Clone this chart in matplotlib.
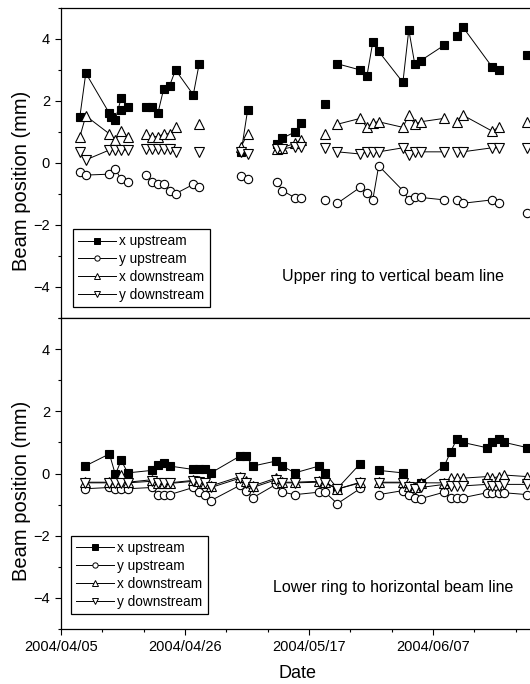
import numpy as np
import matplotlib
matplotlib.use('Agg')
import matplotlib.pyplot as plt
import matplotlib.dates as mdates
from matplotlib.lines import Line2D
from datetime import datetime

plt.rcParams['font.family'] = ['Liberation Sans', 'DejaVu Sans']

# Data (days after 2004/04/05)
base = mdates.date2num(datetime(2004, 4, 5))
tick_labels = ['2004/04/05', '2004/04/26', '2004/05/17', '2004/06/07']
tick_days = [0, 21, 42, 63]

# Upper ring to vertical beam line
days_up = [3.2, 4.2, 8.2, 9.2, 10.2, 11.3, 14.4, 15.4, 16.4, 17.4, 18.4, 19.4,
           22.4, 23.4, 30.5, 31.6, 36.5, 37.5, 39.6, 40.6, 44.7, 46.8, 50.7,
           51.8, 52.8, 53.8, 57.9, 58.9, 59.9, 60.9, 64.9, 67.0, 68.0, 73.0,
           74.1, 79.0]
starts_up = [6, 14, 16, 20, 21, 31, 35]
xu_up = [1.5, 2.9, 1.6, 1.4, 2.1, 1.8, 1.8, 1.8, 1.6, 2.4, 2.5, 3.0,
         2.2, 3.2, 0.35, 1.7, 0.6, 0.8, 1.0, 1.3, 1.9, 3.2, 3.0,
         2.8, 3.9, 3.6, 2.6, 4.3, 3.2, 3.3, 3.8, 4.1, 4.4, 3.1,
         3.0, 3.5]
xu_up_extra_days = [8.4, 10.2]
xu_up_extra = [1.5, 1.7]
yu_up = [-0.3, -0.39, -0.36, -0.2, -0.53, -0.6, -0.39, -0.6, -0.69, -0.69, -0.89, -0.99,
         -0.69, -0.78, -0.41, -0.52, -0.6, -0.89, -1.12, -1.12, -1.19, -1.3, -0.78,
         -0.98, -1.19, -0.09, -0.89, -1.19, -1.11, -1.11, -1.19, -1.19, -1.3, -1.19,
         -1.3, -1.6]
xd_up = [0.85, 1.52, 0.94, 0.74, 1.03, 0.85, 0.94, 0.85, 0.85, 0.94, 0.94, 1.15,
         np.nan, 1.25, 0.53, 0.94, 0.45, 0.5, 0.63, 0.74, 0.94, 1.25, 1.44,
         1.15, 1.3, 1.33, 1.15, 1.55, 1.25, 1.33, 1.44, 1.33, 1.55, 1.03,
         1.15, 1.33]
yd_up = [0.36, 0.1, 0.42, 0.42, 0.42, 0.42, 0.45, 0.45, 0.45, 0.45, 0.45, 0.36,
         np.nan, 0.36, 0.36, 0.29, 0.45, 0.45, 0.53, 0.53, 0.49, 0.36, 0.29,
         0.36, 0.36, 0.36, 0.49, 0.26, 0.36, 0.36, 0.36, 0.36, 0.36, 0.49,
         0.49, 0.49]

# Lower ring to horizontal beam line
days_lo = [4.1, 8.2, 9.2, 10.2, 11.3, 15.4, 16.4, 17.4, 18.4, 22.4, 23.4, 24.4,
           25.4, 30.3, 31.3, 32.5, 36.4, 37.5, 39.6, 43.7, 44.7, 46.8, 50.7,
           53.8, 57.9, 58.9, 59.9, 60.9, 64.9, 66.0, 67.0, 68.0, 72.1, 73.0,
           74.1, 75.1, 79.0]
starts_lo = [23]
xu_lo = [0.24, 0.63, -0.03, 0.42, 0.02, 0.1, 0.26, 0.34, 0.24, 0.13, 0.13, 0.13,
         0.02, 0.56, 0.56, 0.24, 0.4, 0.24, 0.02, 0.24, 0.02, -0.48, 0.32,
         0.1, 0.02, np.nan, np.nan, -0.3, 0.24, 0.7, 1.1, 1.0, 0.83, 1.02,
         1.1, 1.0, 0.83]
yu_lo = [-0.49, -0.45, -0.49, -0.49, -0.49, -0.45, -0.68, -0.68, -0.68, -0.45, -0.6, -0.7,
         -0.87, -0.38, -0.55, -0.78, -0.35, -0.6, -0.68, -0.6, -0.6, -0.97, -0.48,
         -0.68, -0.55, -0.68, -0.78, -0.81, -0.6, -0.78, -0.78, -0.78, -0.62, -0.62,
         -0.62, -0.62, -0.68]
xd_lo = [-0.28, -0.28, -0.28, -0.05, -0.28, -0.2, -0.3, -0.3, -0.3, -0.22, -0.25, -0.3,
         -0.4, -0.1, -0.25, -0.4, -0.15, -0.28, -0.28, -0.25, -0.28, -0.5, -0.28,
         -0.28, -0.28, -0.4, -0.45, -0.3, -0.3, -0.15, -0.15, -0.15, -0.1, -0.15,
         -0.1, -0.05, -0.1]
yd_lo = [-0.3, -0.3, -0.3, -0.3, -0.3, -0.25, -0.32, -0.32, -0.32, -0.25, -0.28, -0.32,
         -0.45, -0.15, -0.3, -0.45, -0.2, -0.3, -0.3, -0.28, -0.3, -0.5, -0.3,
         -0.3, -0.3, -0.45, -0.5, -0.45, -0.35, -0.4, -0.4, -0.4, -0.35, -0.4,
         -0.4, -0.35, -0.35]

labels = ['x upstream', 'y upstream', 'x downstream', 'y downstream']
markers = ['s', 'o', '^', 'v']
fills = ['black', 'white', 'white', 'white']
sizes = [5.6, 6.0, 7.0, 7.0]


def draw(ax, days, starts, series):
    x = base + np.asarray(days)
    for vals, m, fc, ms in zip(series, markers, fills, sizes):
        y = np.asarray(vals, float)
        xs = np.insert(x, starts, np.nan)
        ys = np.insert(y, starts, np.nan)
        ax.plot(xs, ys, color='black', lw=0.7, marker=m, ms=ms,
                mfc=fc, mec='black', mew=0.8)


fig = plt.figure(figsize=(5.3, 6.84), dpi=100)
W = 472.4 / 530
ax1 = fig.add_axes([61 / 530, 1 - 318 / 684, W, 310 / 684])
ax2 = fig.add_axes([61 / 530, 1 - 629 / 684, W, 311 / 684])

draw(ax1, days_up, starts_up, [xu_up, yu_up, xd_up, yd_up])
ax1.plot(base + np.asarray(xu_up_extra_days), xu_up_extra, ls='none', marker='s',
         ms=5.6, mfc='black', mec='black', mew=0.8)
draw(ax2, days_lo, starts_lo, [xu_lo, yu_lo, xd_lo, yd_lo])

handles = [Line2D([], [], color='black', lw=0.7, marker=m, ms=3.8, mfc=fc,
                  mec='black', mew=0.7) for m, fc in zip(markers, fills)]

for ax, txt, leg_xy in [(ax1, 'Upper ring to vertical beam line', (0.025, 0.035)),
                        (ax2, 'Lower ring to horizontal beam line', (0.021, 0.048))]:
    ax.set_xlim(base, base + 80)
    ax.set_ylim(-5, 5)
    ax.set_yticks([-4, -2, 0, 2, 4])
    ax.set_yticks([-5, -3, -1, 1, 3, 5], minor=True)
    ax.set_xticks(base + np.array(tick_days))
    ax.set_xticks(base + np.arange(0, 84, 7), minor=True)
    ax.tick_params(which='both', direction='out', width=0.8, labelsize=10.5,
                   top=False, right=False)
    ax.tick_params(which='major', length=4.5)
    ax.tick_params(which='minor', length=2.5)
    for s in ax.spines.values():
        s.set_linewidth(0.9)
    ax.set_ylabel('Beam position (mm)', fontsize=14.5)
    ax.yaxis.set_label_coords(-0.064, 0.443)
    ax.text(0.703, 0.135, txt, transform=ax.transAxes, ha='center', va='center',
            fontsize=11.5)
    leg = ax.legend(handles, labels, loc='lower left', bbox_to_anchor=leg_xy,
                    borderaxespad=0, fancybox=False, edgecolor='black',
                    framealpha=1, fontsize=9.8, handlelength=2.8,
                    labelspacing=0.28, handletextpad=0.2, borderpad=0.4)
    leg.get_frame().set_linewidth(0.9)

ax1.set_xticklabels([])
ax1.tick_params(axis='x', which='both', length=0)
ax2.set_xticklabels(tick_labels)
ax2.set_xlabel('Date', fontsize=13, labelpad=8)

plt.savefig('out.png', dpi=100)
